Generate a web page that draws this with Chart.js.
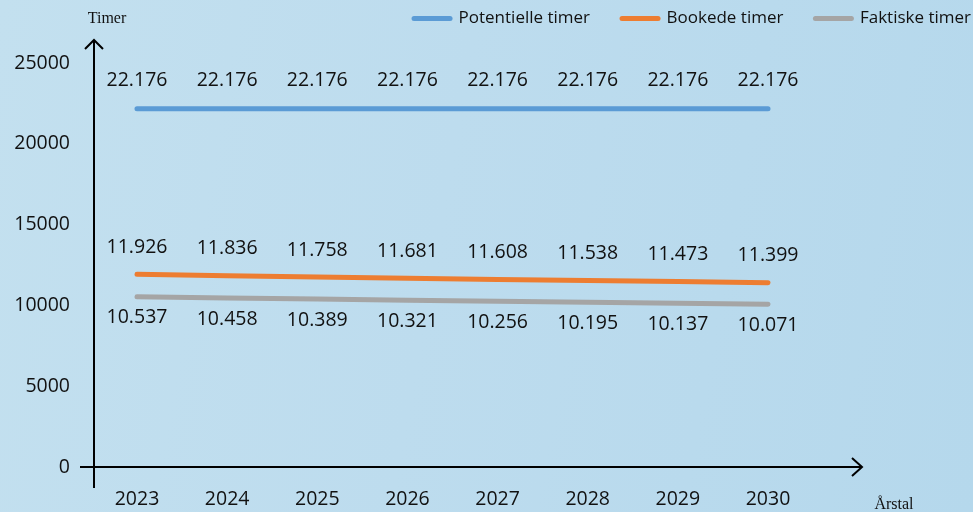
<!DOCTYPE html>
<html>
<head>
<meta charset="utf-8">
<script src="https://cdn.jsdelivr.net/npm/chart.js@4"></script>
<style>
  html, body { margin: 0; padding: 0; }
  body {
    width: 973px; height: 512px; overflow: hidden;
    background: linear-gradient(100deg, #c3e0ef 0%, #bddcee 45%, #b5d8ec 100%);
  }
  #wrap { position: relative; width: 973px; height: 512px; }
</style>
</head>
<body>
<div id="wrap"><canvas id="timerChart" width="973" height="512"></canvas></div>
<script>
const years = [2023, 2024, 2025, 2026, 2027, 2028, 2029, 2030];
const potentielle = [22176, 22176, 22176, 22176, 22176, 22176, 22176, 22176];
const bookede = [11926, 11836, 11758, 11681, 11608, 11538, 11473, 11399];
const faktiske = [10537, 10458, 10389, 10321, 10256, 10195, 10137, 10071];
const yTicks = [0, 5000, 10000, 15000, 20000, 25000];

const font = "'Open Sans', 'Noto Sans', sans-serif";

// danish thousands separator
function fmt(v) {
  return String(v).replace(/\B(?=(\d{3})+(?!\d))/g, ".");
}

const labelOffsets = [-28, -27, 21];

// push the plot down below the legend
const legendSpace = {
  id: "legendSpace",
  beforeLayout(chart) {
    const lg = chart.legend;
    if (lg && !lg._patched) {
      const fit = lg.fit;
      lg.fit = function () { fit.call(this); this.height = 85; };
      lg._patched = true;
    }
  }
};

const valueLabels = {
  id: "valueLabels",
  afterDatasetsDraw(chart) {
    const ctx = chart.ctx;
    ctx.save();
    ctx.font = "19.5px " + font;
    ctx.fillStyle = "#111";
    ctx.textAlign = "center";
    ctx.textBaseline = "middle";
    chart.data.datasets.forEach((ds, i) => {
      chart.getDatasetMeta(i).data.forEach((pt, j) => {
        ctx.fillText(fmt(ds.data[j].y), pt.x, pt.y + labelOffsets[i]);
      });
    });
    ctx.restore();
  }
};

const axesArrows = {
  id: "axesArrows",
  afterDraw(chart) {
    const { ctx, chartArea: a } = chart;
    const xEnd = a.right - 111;
    ctx.save();
    ctx.strokeStyle = "#000";
    ctx.lineWidth = 2;
    ctx.beginPath();
    // y axis
    ctx.moveTo(a.left, a.bottom + 21);
    ctx.lineTo(a.left, a.top - 23);
    ctx.moveTo(a.left - 9, a.top - 14);
    ctx.lineTo(a.left, a.top - 23);
    ctx.lineTo(a.left + 9, a.top - 14);
    // x axis
    ctx.moveTo(a.left - 14, a.bottom);
    ctx.lineTo(xEnd, a.bottom);
    ctx.moveTo(xEnd - 10, a.bottom - 9);
    ctx.lineTo(xEnd, a.bottom);
    ctx.lineTo(xEnd - 10, a.bottom + 9);
    ctx.stroke();

    ctx.fillStyle = "#111";
    ctx.font = "16px 'Liberation Serif', serif";
    ctx.textAlign = "center";
    ctx.textBaseline = "middle";
    ctx.fillText("Timer", a.left + 13, 19);
    ctx.fillText("Årstal", xEnd + 32, 505);
    ctx.restore();
  }
};

function series(values) {
  return values.map((v, i) => ({ x: years[i], y: v }));
}

new Chart(document.getElementById("timerChart"), {
  type: "line",
  data: {
    datasets: [
      { label: "Potentielle timer", data: series(potentielle), borderColor: "#5b9bd5", backgroundColor: "#5b9bd5" },
      { label: "Bookede timer", data: series(bookede), borderColor: "#ed7d31", backgroundColor: "#ed7d31" },
      { label: "Faktiske timer", data: series(faktiske), borderColor: "#a5a5a5", backgroundColor: "#a5a5a5" }
    ]
  },
  options: {
    responsive: false,
    animation: false,
    devicePixelRatio: 1,
    layout: { padding: { top: -22, right: -30, left: 0, bottom: 0 } },
    elements: {
      line: { borderWidth: 5, tension: 0, borderCapStyle: "round" },
      point: { radius: 0 }
    },
    plugins: {
      tooltip: { enabled: false },
      legend: {
        position: "top",
        align: "end",
        labels: {
          usePointStyle: true,
          pointStyle: "line",
          pointStyleWidth: 36,
          padding: 32,
          color: "#111",
          font: { family: font, size: 17 },
          generateLabels: chart =>
            Chart.defaults.plugins.legend.labels.generateLabels(chart).map(l => {
              const ds = chart.data.datasets[l.datasetIndex];
              return Object.assign(l, { strokeStyle: ds.borderColor, fillStyle: ds.borderColor, lineWidth: 5, lineCap: "round", pointStyle: "line" });
            })
        }
      }
    },
    scales: {
      x: {
        type: "linear",
        min: 2022.523,
        max: 2032.274,
        afterBuildTicks: s => { s.ticks = years.map(v => ({ value: v })); },
        afterFit: s => { s.height = 45; },
        grid: { display: false, drawTicks: false },
        border: { display: false },
        ticks: {
          padding: 21,
          color: "#111",
          font: { family: font, size: 19.5 },
          callback: v => String(v)
        }
      },
      y: {
        min: 0,
        max: 25000,
        afterBuildTicks: s => { s.ticks = yTicks.map(v => ({ value: v })); },
        afterFit: s => { s.width = 94; },
        grid: { display: false, drawTicks: false },
        border: { display: false },
        ticks: {
          padding: 24,
          color: "#111",
          font: { family: font, size: 19.5 },
          callback: v => String(v)
        }
      }
    }
  },
  plugins: [legendSpace, valueLabels, axesArrows]
});
</script>
</body>
</html>
